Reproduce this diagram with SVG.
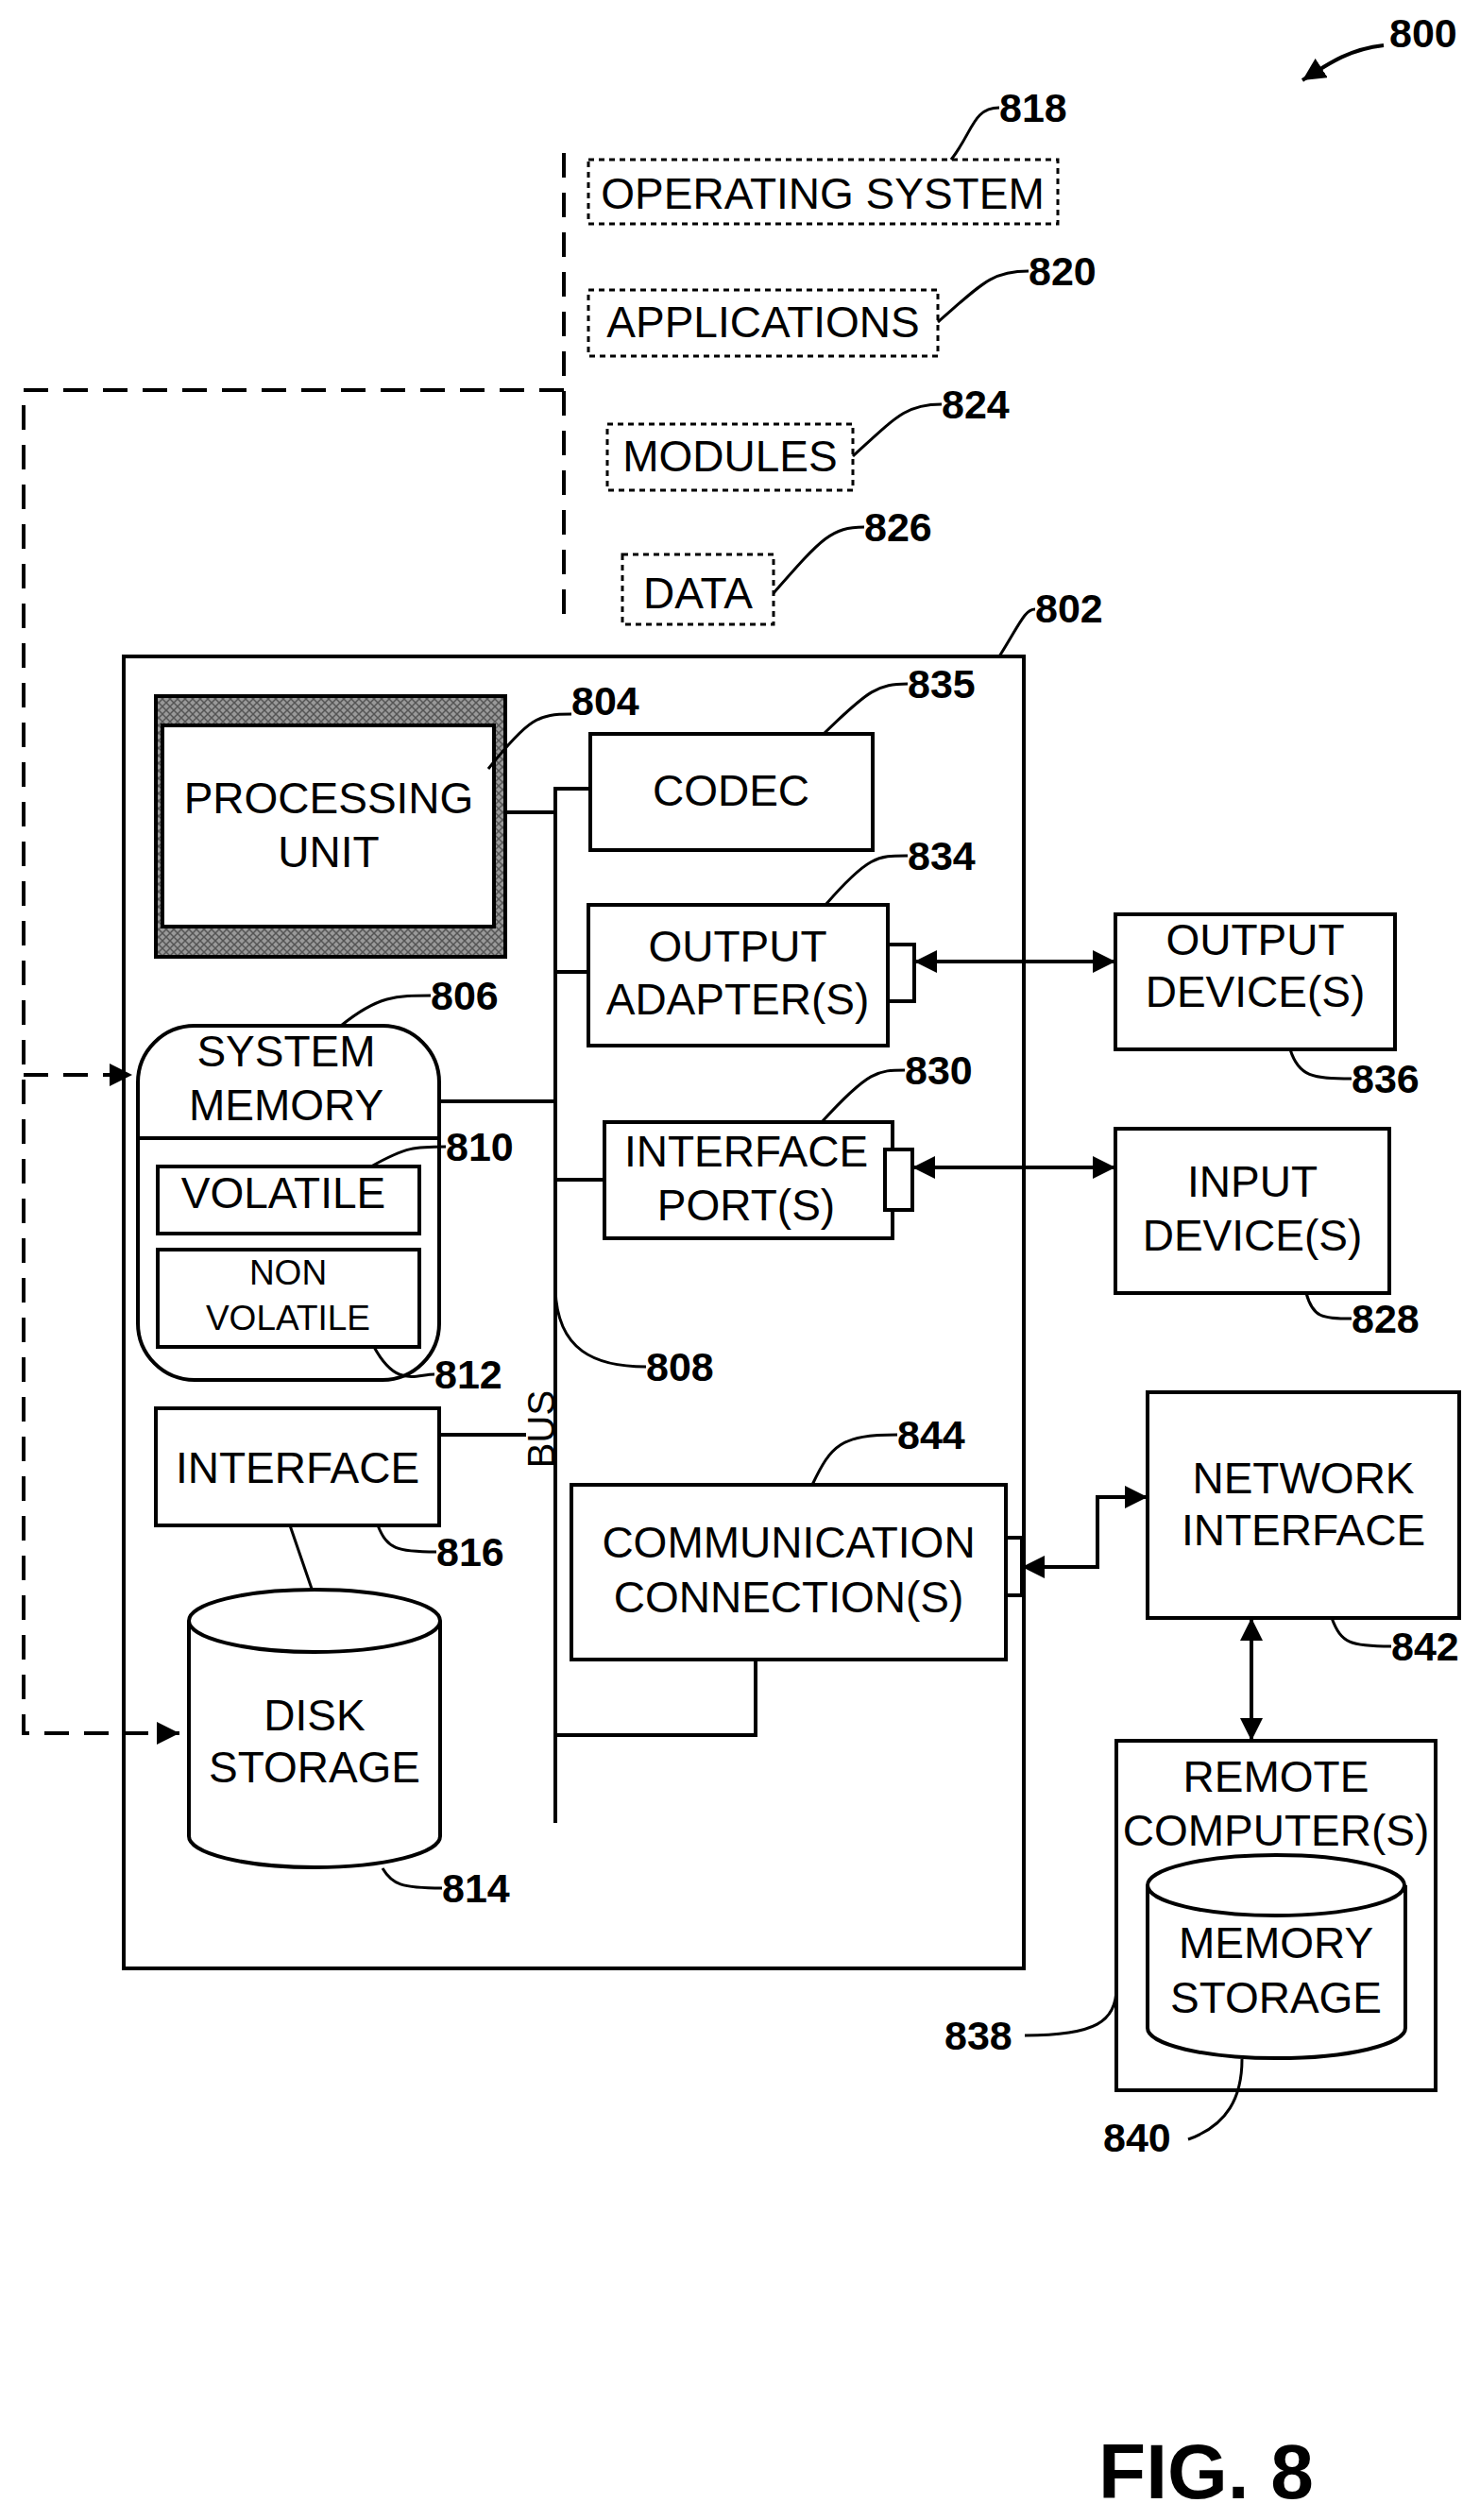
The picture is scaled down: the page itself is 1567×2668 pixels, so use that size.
<svg xmlns="http://www.w3.org/2000/svg" width="1567" height="2668" viewBox="0 0 1567 2668">
<style>
.b{fill:#fff;stroke:#000;stroke-width:4}
.n{fill:none;stroke:#000;stroke-width:4}
.l{fill:none;stroke:#000;stroke-width:3}
.d{fill:none;stroke:#000;stroke-width:4;stroke-dasharray:26 16}
.db{fill:#fff;stroke:#000;stroke-width:3;stroke-dasharray:6 5}
text{font-family:"Liberation Sans",Arial,sans-serif;font-size:46px;text-anchor:middle;fill:#000}
.r{font-weight:bold;font-size:43px;text-anchor:start}
</style>
<defs>
<pattern id="h" width="8" height="8" patternUnits="userSpaceOnUse"><rect width="8" height="8" fill="#999"/><path d="M0 0L8 8M8 0L0 8" stroke="#555" stroke-width="1.5"/></pattern>
<marker id="a" viewBox="0 0 10 10" refX="10" refY="5" markerWidth="6" markerHeight="6" orient="auto-start-reverse"><path d="M0 0L10 5L0 10z"/></marker>
</defs>
<g id="connectors">
<path class="d" d="M597 162V654"/>
<path class="d" d="M597 413H25V1835H190" marker-end="url(#a)"/>
<path class="d" d="M25 1138H140" marker-end="url(#a)"/>
<path class="n" d="M588 1930V835H625M535 860H588M588 1029H623M465 1166H588M588 1249H640M465 1519H557M588 1837H800V1757"/>
<path class="l" d="M307 1615L330 1682"/>
<path class="n" d="M968 1018H1181" marker-start="url(#a)" marker-end="url(#a)"/>
<path class="n" d="M966 1236H1181" marker-start="url(#a)" marker-end="url(#a)"/>
<path class="n" d="M1082 1659H1162V1585H1215" marker-start="url(#a)" marker-end="url(#a)"/>
<path class="n" d="M1325 1713V1843" marker-start="url(#a)" marker-end="url(#a)"/>
<path class="n" d="M1465 48C1430 52 1410 65 1379 85" marker-end="url(#a)"/>
</g>
<g id="n818"><rect class="db" x="623" y="169" width="497" height="68"/><text x="871" y="221">OPERATING SYSTEM</text><text class="r" x="1058" y="129">818</text></g>
<g id="n820"><rect class="db" x="623" y="307" width="370" height="70"/><text x="808" y="357">APPLICATIONS</text><text class="r" x="1089" y="302">820</text></g>
<g id="n824"><rect class="db" x="643" y="449" width="260" height="70"/><text x="773" y="499">MODULES</text><text class="r" x="997" y="443">824</text></g>
<g id="n826"><rect class="db" x="659" y="587" width="160" height="74"/><text x="739" y="644">DATA</text><text class="r" x="915" y="573">826</text></g>
<g id="n800"><text class="r" x="1471" y="50">800</text></g>
<g id="n802"><rect class="n" x="131" y="695" width="953" height="1389"/><text class="r" x="1096" y="659">802</text></g>
<g id="n804"><rect x="165" y="737" width="370" height="276" fill="url(#h)" stroke="#000" stroke-width="4"/><rect class="b" x="172" y="768" width="351" height="213"/><text x="348" y="861">PROCESSING</text><text x="348" y="918">UNIT</text><text class="r" x="605" y="757">804</text></g>
<g id="n835"><rect class="b" x="625" y="777" width="299" height="123"/><text x="774" y="853">CODEC</text><text class="r" x="961" y="739">835</text></g>
<g id="n834"><rect class="b" x="623" y="958" width="317" height="149"/><rect class="b" x="940" y="1000" width="28" height="60"/><text x="781" y="1018">OUTPUT</text><text x="781" y="1074">ADAPTER(S)</text><text class="r" x="961" y="921">834</text></g>
<g id="n830"><rect class="b" x="640" y="1188" width="305" height="123"/><rect class="b" x="937" y="1217" width="29" height="64"/><text x="790" y="1235">INTERFACE</text><text x="790" y="1292">PORT(S)</text><text class="r" x="958" y="1148">830</text></g>
<g id="n806"><rect class="b" x="146" y="1086" width="319" height="375" rx="60"/><path class="n" d="M146 1205H465"/><text x="303" y="1129">SYSTEM</text><text x="303" y="1186">MEMORY</text><text class="r" x="456" y="1069">806</text></g>
<g id="n810"><rect class="b" x="167" y="1235" width="277" height="71"/><text x="300" y="1279">VOLATILE</text><text class="r" x="472" y="1229">810</text></g>
<g id="n812"><rect class="b" x="167" y="1323" width="277" height="103"/><text x="305" y="1360" style="font-size:37px">NON</text><text x="305" y="1408" style="font-size:37px">VOLATILE</text><text class="r" x="460" y="1470">812</text></g>
<g id="n808"><text x="576" y="1513" transform="rotate(-90 576 1513)" style="font-size:40px;dominant-baseline:middle">BUS</text><text class="r" x="684" y="1462">808</text></g>
<g id="n816"><rect class="b" x="165" y="1491" width="300" height="124"/><text x="315" y="1570">INTERFACE</text><text class="r" x="462" y="1658">816</text></g>
<g id="n814"><path class="b" d="M200 1716V1944A133 33 0 0 0 466 1944V1716"/><ellipse class="b" cx="333" cy="1716" rx="133" ry="33"/><text x="333" y="1832">DISK</text><text x="333" y="1887">STORAGE</text><text class="r" x="468" y="2014">814</text></g>
<g id="n844"><rect class="b" x="605" y="1572" width="460" height="185"/><rect class="b" x="1065" y="1628" width="17" height="61"/><text x="835" y="1649">COMMUNICATION</text><text x="835" y="1707">CONNECTION(S)</text><text class="r" x="950" y="1534">844</text></g>
<g id="n836"><rect class="b" x="1181" y="968" width="296" height="143"/><text x="1329" y="1011">OUTPUT</text><text x="1329" y="1066">DEVICE(S)</text><text class="r" x="1431" y="1157">836</text></g>
<g id="n828"><rect class="b" x="1181" y="1195" width="290" height="174"/><text x="1326" y="1267">INPUT</text><text x="1326" y="1324">DEVICE(S)</text><text class="r" x="1431" y="1411">828</text></g>
<g id="n842"><rect class="b" x="1215" y="1474" width="330" height="239"/><text x="1380" y="1581">NETWORK</text><text x="1380" y="1636">INTERFACE</text><text class="r" x="1473" y="1758">842</text></g>
<g id="n838"><rect class="b" x="1182" y="1843" width="338" height="370"/><text x="1351" y="1897">REMOTE</text><text x="1351" y="1954">COMPUTER(S)</text><text class="r" x="1000" y="2170">838</text></g>
<g id="n840"><path class="b" d="M1215 1996V2147A136 32 0 0 0 1488 2147V1996"/><ellipse class="b" cx="1351" cy="1996" rx="136" ry="32"/><text x="1351" y="2073">MEMORY</text><text x="1351" y="2131">STORAGE</text><text class="r" x="1168" y="2278">840</text></g>
<g id="leaders">
<path class="l" d="M1007 169C1030 140 1030 114 1058 114M993 341C1040 300 1050 287 1089 287M903 483C950 440 960 428 997 428M819 628C870 570 880 558 915 558M1058 695C1080 660 1085 645 1096 645"/>
<path class="l" d="M517 814C560 760 570 756 605 756M872 777C920 730 930 724 961 724M874 958C920 905 930 906 961 906M870 1188C920 1133 930 1133 958 1133M361 1086C400 1054 420 1054 456 1054M393 1235C430 1214 440 1214 472 1214M396 1426C420 1470 440 1455 460 1455M588 1365C590 1430 630 1447 684 1447M400 1615C410 1640 420 1643 462 1643"/>
<path class="l" d="M405 1978C415 1995 425 1999 468 1999M860 1572C880 1530 890 1519 950 1519M1410 1713C1420 1740 1430 1743 1473 1743M1366 1111C1375 1140 1390 1142 1431 1142M1383 1369C1390 1395 1400 1396 1431 1396M1085 2155C1160 2155 1182 2140 1182 2105M1258 2265C1300 2250 1315 2220 1315 2180"/>
</g>
<text x="1277" y="2645" style="font-weight:bold;font-size:82px">FIG. 8</text>
</svg>
